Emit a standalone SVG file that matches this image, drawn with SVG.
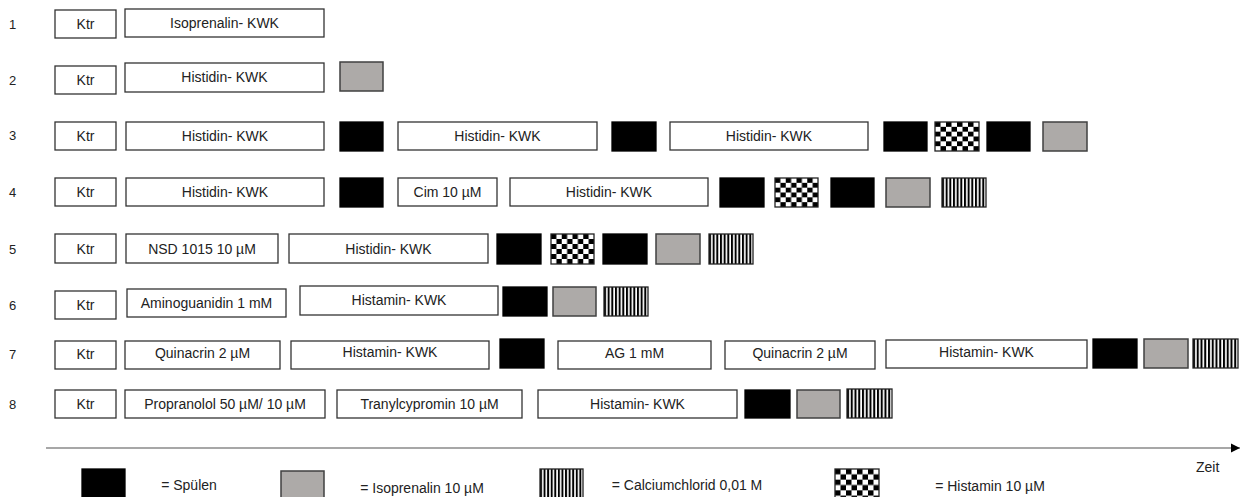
<svg xmlns="http://www.w3.org/2000/svg" width="1248" height="497" viewBox="0 0 1248 497">
<style>
.b{fill:#fff;stroke:#333;stroke-width:1.3}
.k{fill:#000;stroke:#000;stroke-width:1.3}
.g{fill:#adaaa8;stroke:#404040;stroke-width:1.5}
.c{fill:url(#chk);stroke:#222;stroke-width:1.3}
.s{fill:url(#str);stroke:#222;stroke-width:1.3}
text{font-family:"Liberation Sans",Arial,sans-serif;font-size:14px;fill:#222}
.m{text-anchor:middle}
.n{font-size:13px}
</style>
<defs>
<pattern id="chk" patternUnits="objectBoundingBox" patternContentUnits="objectBoundingBox" width="0.25" height="0.3333">
<rect width="0.25" height="0.3333" fill="#fff"/>
<rect width="0.125" height="0.16667" fill="#000"/>
<rect x="0.125" y="0.16667" width="0.125" height="0.16667" fill="#000"/>
</pattern>
<pattern id="str" patternUnits="objectBoundingBox" patternContentUnits="objectBoundingBox" width="0.0833" height="1">
<rect width="0.0833" height="1" fill="#fff"/>
<rect width="0.045" height="1" fill="#000"/>
</pattern>
<marker id="arr" markerWidth="10" markerHeight="10" refX="9" refY="5" orient="auto" markerUnits="userSpaceOnUse">
<path d="M0,0.5 L9,5 L0,9.5 Z" fill="#000"/>
</marker>
</defs>

<g id="rownumbers">
<text class="n" x="9" y="29">1</text>
<text class="n" x="9" y="85">2</text>
<text class="n" x="9" y="140">3</text>
<text class="n" x="9" y="197">4</text>
<text class="n" x="9" y="254">5</text>
<text class="n" x="9" y="310">6</text>
<text class="n" x="9" y="359">7</text>
<text class="n" x="9" y="409">8</text>
</g>

<!-- Row 1 -->
<g id="r1-ktr"><rect class="b" x="55" y="10" width="61" height="28"/><text class="m" x="85.5" y="29">Ktr</text></g>
<g id="r1-iso"><rect class="b" x="125" y="9" width="199" height="28"/><text class="m" x="224.5" y="28">Isoprenalin- KWK</text></g>

<!-- Row 2 -->
<g id="r2-ktr"><rect class="b" x="55" y="66" width="61" height="28"/><text class="m" x="85.5" y="85">Ktr</text></g>
<g id="r2-his"><rect class="b" x="125" y="63" width="199" height="29"/><text class="m" x="224.5" y="82">Histidin- KWK</text></g>
<g id="r2-gray"><rect class="g" x="340" y="62" width="43" height="29"/></g>

<!-- Row 3 -->
<g id="r3-ktr"><rect class="b" x="55" y="122" width="61" height="28"/><text class="m" x="85.5" y="141">Ktr</text></g>
<g id="r3-his1"><rect class="b" x="126" y="122" width="198" height="28"/><text class="m" x="225" y="141">Histidin- KWK</text></g>
<g id="r3-k1"><rect class="k" x="340" y="122" width="43" height="29"/></g>
<g id="r3-his2"><rect class="b" x="398" y="122" width="199" height="28"/><text class="m" x="497.5" y="141">Histidin- KWK</text></g>
<g id="r3-k2"><rect class="k" x="612" y="122" width="44" height="29"/></g>
<g id="r3-his3"><rect class="b" x="670" y="122" width="198" height="28"/><text class="m" x="769" y="141">Histidin- KWK</text></g>
<g id="r3-k3"><rect class="k" x="884" y="122" width="43" height="29"/></g>
<g id="r3-chk"><rect class="c" x="935" y="122" width="44" height="29"/></g>
<g id="r3-k4"><rect class="k" x="987" y="122" width="43" height="29"/></g>
<g id="r3-gray"><rect class="g" x="1043" y="122" width="44" height="29"/></g>

<!-- Row 4 -->
<g id="r4-ktr"><rect class="b" x="55" y="178" width="61" height="28"/><text class="m" x="85.5" y="197">Ktr</text></g>
<g id="r4-his1"><rect class="b" x="126" y="178" width="198" height="28"/><text class="m" x="225" y="197">Histidin- KWK</text></g>
<g id="r4-k1"><rect class="k" x="340" y="178" width="43" height="29"/></g>
<g id="r4-cim"><rect class="b" x="398" y="178" width="99" height="28"/><text class="m" x="447.5" y="197">Cim 10 µM</text></g>
<g id="r4-his2"><rect class="b" x="510" y="178" width="198" height="28"/><text class="m" x="609" y="197">Histidin- KWK</text></g>
<g id="r4-k2"><rect class="k" x="720" y="178" width="44" height="29"/></g>
<g id="r4-chk"><rect class="c" x="775" y="178" width="43" height="29"/></g>
<g id="r4-k3"><rect class="k" x="831" y="178" width="43" height="29"/></g>
<g id="r4-gray"><rect class="g" x="886" y="178" width="44" height="29"/></g>
<g id="r4-str"><rect class="s" x="942" y="178" width="44" height="29"/></g>

<!-- Row 5 -->
<g id="r5-ktr"><rect class="b" x="55" y="234" width="61" height="29"/><text class="m" x="85.5" y="254">Ktr</text></g>
<g id="r5-nsd"><rect class="b" x="126" y="234" width="152" height="29"/><text class="m" x="202" y="254">NSD 1015 10 µM</text></g>
<g id="r5-his"><rect class="b" x="289" y="234" width="199" height="29"/><text class="m" x="388.5" y="254">Histidin- KWK</text></g>
<g id="r5-k1"><rect class="k" x="497" y="234" width="44" height="30"/></g>
<g id="r5-chk"><rect class="c" x="551" y="234" width="43" height="30"/></g>
<g id="r5-k2"><rect class="k" x="603" y="234" width="44" height="30"/></g>
<g id="r5-gray"><rect class="g" x="656" y="234" width="44" height="30"/></g>
<g id="r5-str"><rect class="s" x="709" y="234" width="44" height="30"/></g>

<!-- Row 6 -->
<g id="r6-ktr"><rect class="b" x="55" y="291" width="61" height="28"/><text class="m" x="85.5" y="310">Ktr</text></g>
<g id="r6-ag"><rect class="b" x="127" y="289" width="159" height="28"/><text class="m" x="206.5" y="308">Aminoguanidin 1 mM</text></g>
<g id="r6-his"><rect class="b" x="300" y="286" width="198" height="29"/><text class="m" x="399" y="305">Histamin- KWK</text></g>
<g id="r6-k"><rect class="k" x="503" y="287" width="44" height="29"/></g>
<g id="r6-gray"><rect class="g" x="553" y="287" width="43" height="29"/></g>
<g id="r6-str"><rect class="s" x="604" y="287" width="44" height="29"/></g>

<!-- Row 7 -->
<g id="r7-ktr"><rect class="b" x="55" y="341" width="61" height="28"/><text class="m" x="85.5" y="359">Ktr</text></g>
<g id="r7-qui1"><rect class="b" x="125" y="341" width="155" height="28"/><text class="m" x="202.5" y="358">Quinacrin 2 µM</text></g>
<g id="r7-his1"><rect class="b" x="291" y="341" width="198" height="28"/><text class="m" x="390" y="357">Histamin- KWK</text></g>
<g id="r7-k1"><rect class="k" x="500" y="339" width="44" height="29"/></g>
<g id="r7-ag"><rect class="b" x="558" y="341" width="153" height="28"/><text class="m" x="634.5" y="358">AG 1 mM</text></g>
<g id="r7-qui2"><rect class="b" x="725" y="341" width="150" height="28"/><text class="m" x="800" y="358">Quinacrin 2 µM</text></g>
<g id="r7-his2"><rect class="b" x="886" y="340" width="201" height="28"/><text class="m" x="986.5" y="357">Histamin- KWK</text></g>
<g id="r7-k2"><rect class="k" x="1093" y="339" width="44" height="29"/></g>
<g id="r7-gray"><rect class="g" x="1144" y="339" width="44" height="29"/></g>
<g id="r7-str"><rect class="s" x="1193" y="339" width="45" height="29"/></g>

<!-- Row 8 -->
<g id="r8-ktr"><rect class="b" x="55" y="390" width="61" height="28"/><text class="m" x="85.5" y="409">Ktr</text></g>
<g id="r8-pro"><rect class="b" x="125" y="390" width="200" height="28"/><text class="m" x="225" y="409">Propranolol 50 µM/ 10 µM</text></g>
<g id="r8-tra"><rect class="b" x="337" y="390" width="185" height="28"/><text class="m" x="429.5" y="409">Tranylcypromin 10 µM</text></g>
<g id="r8-his"><rect class="b" x="538" y="390" width="199" height="28"/><text class="m" x="637.5" y="409">Histamin- KWK</text></g>
<g id="r8-k"><rect class="k" x="745" y="390" width="45" height="28"/></g>
<g id="r8-gray"><rect class="g" x="797" y="390" width="43" height="28"/></g>
<g id="r8-str"><rect class="s" x="847" y="389" width="45" height="29"/></g>

<g id="connectors">
<line x1="46" y1="448" x2="1240" y2="448" stroke="#8a8a8a" stroke-width="1.6" marker-end="url(#arr)"/>
</g>
<g id="axis-label"><text x="1196" y="472">Zeit</text></g>

<g id="legend">
<rect class="k" x="82" y="469" width="43" height="32"/>
<text class="m" x="189" y="490">= Spülen</text>
<rect class="g" x="281" y="471" width="43" height="30"/>
<text class="m" x="422" y="493">= Isoprenalin 10 µM</text>
<rect class="s" x="540" y="469" width="43" height="32"/>
<text class="m" x="687" y="490">= Calciumchlorid 0,01 M</text>
<rect class="c" x="835" y="469" width="44" height="32"/>
<text class="m" x="990" y="491">= Histamin 10 µM</text>
</g>
</svg>
